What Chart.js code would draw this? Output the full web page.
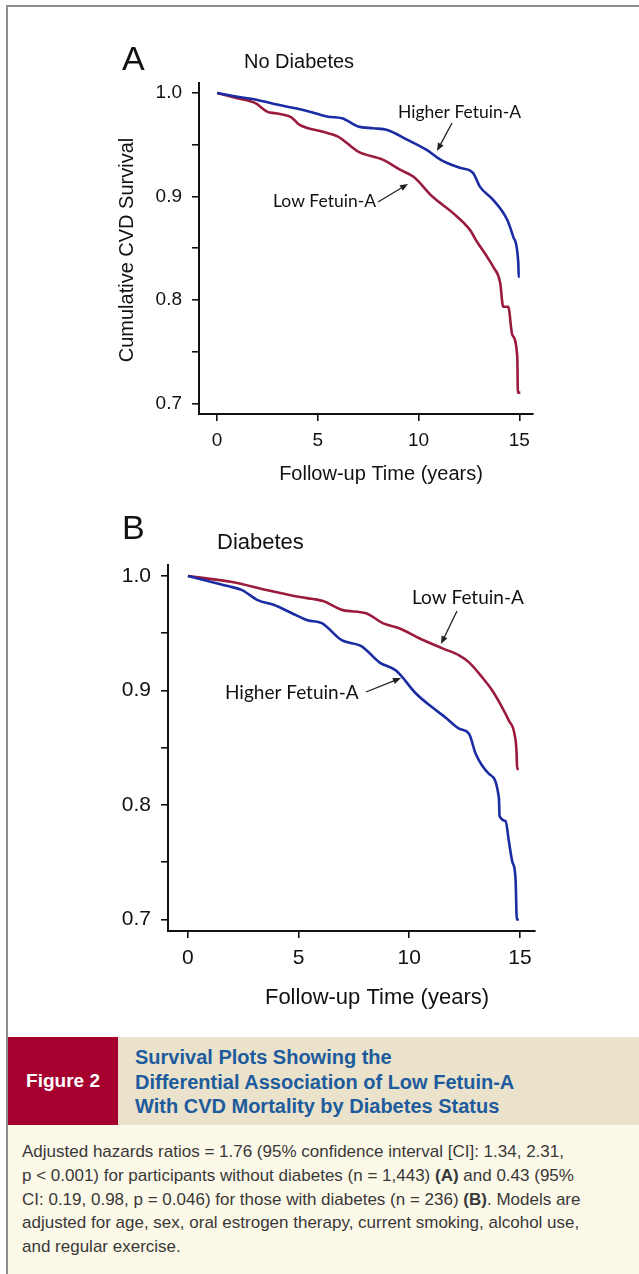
<!DOCTYPE html>
<html>
<head>
<meta charset="utf-8">
<title>Survival Plots by Diabetes Status</title>
<script src="https://cdn.jsdelivr.net/npm/chart.js@4.4.1/dist/chart.umd.min.js"></script>
<style>
  body { margin: 0; background: #fff; }
  #page { position: relative; width: 639px; height: 1274px; overflow: hidden; background: #fff;
          font-family: "Liberation Sans", Arial, sans-serif; }
  .frame-top { position: absolute; left: 6px; top: 5px; width: 633px; height: 2px; background: #8d8d8d; }
  .frame-left { position: absolute; left: 6px; top: 5px; width: 2px; height: 1269px; background: #8d8d8d; }
  canvas { position: absolute; left: 0; }
  #panelA { top: 0; }
  #panelB { top: 500px; }
  .capbar { position: absolute; left: 8px; top: 1037px; width: 631px; height: 88px; background: #eae2cb; }
  .figtag { position: absolute; left: 0; top: 0; width: 110px; height: 88px; background: #a6002f;
            color: #fff; font-weight: bold; font-size: 19px; line-height: 88px; text-align: center; }
  .captitle { position: absolute; left: 127px; top: 8px; color: #1d5b9c; font-weight: bold;
              font-size: 20px; line-height: 24.5px; white-space: nowrap; }
  .legendtext { position: absolute; left: 8px; top: 1125px; width: 631px; height: 149px; background: #fdf9e9;
                box-sizing: border-box; padding: 15px 0 0 14px; color: #383838; font-size: 17px;
                line-height: 23.8px; white-space: nowrap; }
</style>
</head>
<body>
<div id="page">
  <div class="frame-top"></div>
  <div class="frame-left"></div>
  <canvas id="panelA" width="639" height="500"></canvas>
  <canvas id="panelB" width="639" height="530"></canvas>
  <div class="capbar">
    <div class="figtag">Figure 2</div>
    <div class="captitle">Survival Plots Showing the<br>Differential Association of Low Fetuin-A<br>With CVD Mortality by Diabetes Status</div>
  </div>
  <div class="legendtext">
    Adjusted hazards ratios = 1.76 (95% confidence interval [CI]: 1.34, 2.31,<br>
    p &lt; 0.001) for participants without diabetes (n = 1,443) <b>(A)</b> and 0.43 (95%<br>
    CI: 0.19, 0.98, p = 0.046) for those with diabetes (n = 236) <b>(B)</b>. Models are<br>
    adjusted for age, sex, oral estrogen therapy, current smoking, alcohol use,<br>
    and regular exercise.
  </div>
</div>
<script>
// follow-up time (years) / cumulative CVD survival
const noDiabHigherTime = [0, 1.0, 2.0, 2.9, 3.9, 4.7, 5.5, 6.2, 7.0, 7.75, 8.45, 9.45, 10.4, 11.1, 12.05, 12.7, 13.05, 13.7, 14.4, 14.7, 14.95, 14.97, 15.02];
const noDiabHigherSurv = [1.0, 0.9964, 0.9932, 0.9891, 0.9852, 0.9814, 0.9771, 0.9756, 0.9676, 0.9659, 0.9643, 0.9547, 0.945, 0.9354, 0.9277, 0.9228, 0.9093, 0.8968, 0.8775, 0.8611, 0.836, 0.8225, 0.8225];

const noDiabLowTime = [0, 1.0, 1.9, 2.5, 2.9, 3.7, 4.1, 5.2, 6.0, 7.0, 8.25, 9.1, 9.75, 10.7, 11.7, 12.55, 12.9, 13.4, 13.7, 14.05, 14.2, 14.45, 14.65, 14.9, 14.93, 15.05];
const noDiabLowSurv = [1.0, 0.9949, 0.9901, 0.9817, 0.9804, 0.9762, 0.9691, 0.9627, 0.9579, 0.9434, 0.9354, 0.9257, 0.919, 0.8997, 0.8842, 0.8678, 0.8563, 0.8418, 0.8322, 0.8167, 0.7936, 0.7936, 0.7666, 0.7453, 0.7106, 0.7106];

const diabHigherTime = [0, 0.9, 1.8, 2.45, 3.15, 3.9, 4.7, 5.4, 6.05, 6.95, 7.85, 8.65, 9.4, 10.3, 11.05, 11.65, 12.25, 12.7, 13.0, 13.6, 14.05, 14.08, 14.35, 14.5, 14.65, 14.8, 14.86, 14.95];
const diabHigherSurv = [1.0, 0.9956, 0.9912, 0.9877, 0.9789, 0.9746, 0.9675, 0.9614, 0.9588, 0.9439, 0.9386, 0.9246, 0.9175, 0.8974, 0.8851, 0.8763, 0.8667, 0.8623, 0.8447, 0.8272, 0.8061, 0.7904, 0.786, 0.7684, 0.7509, 0.736, 0.7, 0.7];

const diabLowTime = [0, 2.0, 3.55, 5.05, 6.1, 7.0, 8.05, 8.8, 9.55, 10.45, 11.5, 12.25, 12.7, 13.3, 13.75, 14.2, 14.5, 14.75, 14.85, 14.87, 14.95];
const diabLowSurv = [1.0, 0.9947, 0.9877, 0.9816, 0.9781, 0.9702, 0.9675, 0.9588, 0.9544, 0.9456, 0.9368, 0.9307, 0.9246, 0.9114, 0.9, 0.8851, 0.8737, 0.8623, 0.8447, 0.8316, 0.8316];

const yearTicks = [0, 5, 10, 15];
const survivalTicks = [0.7, 0.75, 0.8, 0.85, 0.9, 0.95, 1.0];

const BLUE = "#1b2ca3";
const RED = "#9a1b3d";
const INK = "#111";

function toPoints(times, surv) {
  return times.map((t, i) => ({ x: t, y: surv[i] }));
}

function drawArrow(ctx, x1, y1, x2, y2) {
  const ang = Math.atan2(y2 - y1, x2 - x1);
  const len = 8, half = 3.2;
  ctx.save();
  ctx.strokeStyle = "#222";
  ctx.fillStyle = "#222";
  ctx.lineWidth = 1.3;
  ctx.beginPath();
  ctx.moveTo(x1, y1);
  ctx.lineTo(x2 - Math.cos(ang) * len * 0.8, y2 - Math.sin(ang) * len * 0.8);
  ctx.stroke();
  ctx.beginPath();
  ctx.moveTo(x2, y2);
  ctx.lineTo(x2 - Math.cos(ang) * len - Math.sin(ang) * half, y2 - Math.sin(ang) * len + Math.cos(ang) * half);
  ctx.lineTo(x2 - Math.cos(ang) * len + Math.sin(ang) * half, y2 - Math.sin(ang) * len - Math.cos(ang) * half);
  ctx.closePath();
  ctx.fill();
  ctx.restore();
}

// panel letters, titles, curve labels and axis titles
const notesPlugin = {
  id: "notes",
  afterDraw(chart, args, opts) {
    const ctx = chart.ctx;
    const dy = opts.top || 0;
    (opts.items || []).forEach((it) => {
      if (it.arrow) {
        drawArrow(ctx, it.arrow[0], it.arrow[1] - dy, it.arrow[2], it.arrow[3] - dy);
        return;
      }
      ctx.save();
      ctx.font = it.font;
      ctx.fillStyle = INK;
      ctx.textAlign = it.align || "left";
      ctx.textBaseline = "middle";
      ctx.translate(it.x, it.y - dy);
      if (it.rotate) ctx.rotate(it.rotate);
      ctx.fillText(it.text, 0, 0);
      ctx.restore();
    });
  }
};

function makePanel(id, p) {
  const tickFont = { family: "Liberation Sans", size: p.tickSize };
  const line = { borderWidth: 2.6, pointRadius: 0, cubicInterpolationMode: "monotone", fill: false };
  return new Chart(document.getElementById(id), {
    type: "line",
    data: {
      datasets: [
        { label: "Higher Fetuin-A", data: toPoints(p.higherTime, p.higherSurv), borderColor: BLUE, ...line },
        { label: "Low Fetuin-A", data: toPoints(p.lowTime, p.lowSurv), borderColor: RED, ...line }
      ]
    },
    options: {
      responsive: false,
      animation: false,
      events: [],
      layout: { padding: p.padding },
      plugins: {
        legend: { display: false },
        tooltip: { enabled: false },
        notes: { top: p.top, items: p.notes }
      },
      scales: {
        x: {
          type: "linear", min: -0.9, max: 15.68,
          afterBuildTicks: (s) => { s.ticks = yearTicks.map((v) => ({ value: v })); },
          afterFit: (s) => { s.height = 40; },
          grid: { drawOnChartArea: false, drawTicks: true, tickLength: 7, tickColor: INK, lineWidth: 1.6 },
          border: { display: true, color: INK, width: 2 },
          ticks: { font: tickFont, color: INK, padding: p.xPad, maxRotation: 0,
                   callback: (v) => String(v) }
        },
        y: {
          min: 0.69, max: 1.0096,
          afterBuildTicks: (s) => { s.ticks = survivalTicks.map((v) => ({ value: v })); },
          afterFit: (s) => { s.width = p.axisLeft; },
          grid: { drawOnChartArea: false, drawTicks: true, tickLength: 7, tickColor: INK, lineWidth: 1.6 },
          border: { display: true, color: INK, width: 2 },
          ticks: { font: tickFont, color: INK, padding: 10,
                   callback: (v) => (Math.abs(v * 10 - Math.round(v * 10)) < 1e-6 ? v.toFixed(1) : "") }
        }
      }
    },
    plugins: [notesPlugin]
  });
}

makePanel("panelA", {
  higherTime: noDiabHigherTime, higherSurv: noDiabHigherSurv,
  lowTime: noDiabLowTime, lowSurv: noDiabLowSurv,
  top: 0, axisLeft: 199, tickSize: 19, xPad: 8,
  padding: { top: 83, right: 106, bottom: 46, left: 0 },
  notes: [
    { text: "A", x: 122, y: 61, font: "34px 'Liberation Sans'" },
    { text: "No Diabetes", x: 244, y: 62, font: "20px 'Liberation Sans'" },
    { text: "Higher Fetuin-A", x: 398, y: 112, font: "17.5px Lato" },
    { text: "Low Fetuin-A", x: 273, y: 201, font: "17.5px Lato" },
    { arrow: [452, 123, 437, 151] },
    { arrow: [378, 202, 408, 184] },
    { text: "Cumulative CVD Survival", x: 127, y: 250, align: "center", rotate: -Math.PI / 2, font: "20px 'Liberation Sans'" },
    { text: "Follow-up Time (years)", x: 381, y: 474, align: "center", font: "20px 'Liberation Sans'" }
  ]
});

makePanel("panelB", {
  higherTime: diabHigherTime, higherSurv: diabHigherSurv,
  lowTime: diabLowTime, lowSurv: diabLowSurv,
  top: 500, axisLeft: 168, tickSize: 21, xPad: 8,
  padding: { top: 65, right: 104, bottom: 59, left: 0 },
  notes: [
    { text: "B", x: 122, y: 530, font: "34px 'Liberation Sans'" },
    { text: "Diabetes", x: 217, y: 543, font: "22px 'Liberation Sans'" },
    { text: "Low Fetuin-A", x: 412, y: 598, font: "19px Lato" },
    { text: "Higher Fetuin-A", x: 225, y: 693, font: "19px Lato" },
    { arrow: [457, 611, 441, 644] },
    { arrow: [366, 692, 401, 678] },
    { text: "Follow-up Time (years)", x: 377, y: 998, align: "center", font: "22px 'Liberation Sans'" }
  ]
});
</script>
</body>
</html>
